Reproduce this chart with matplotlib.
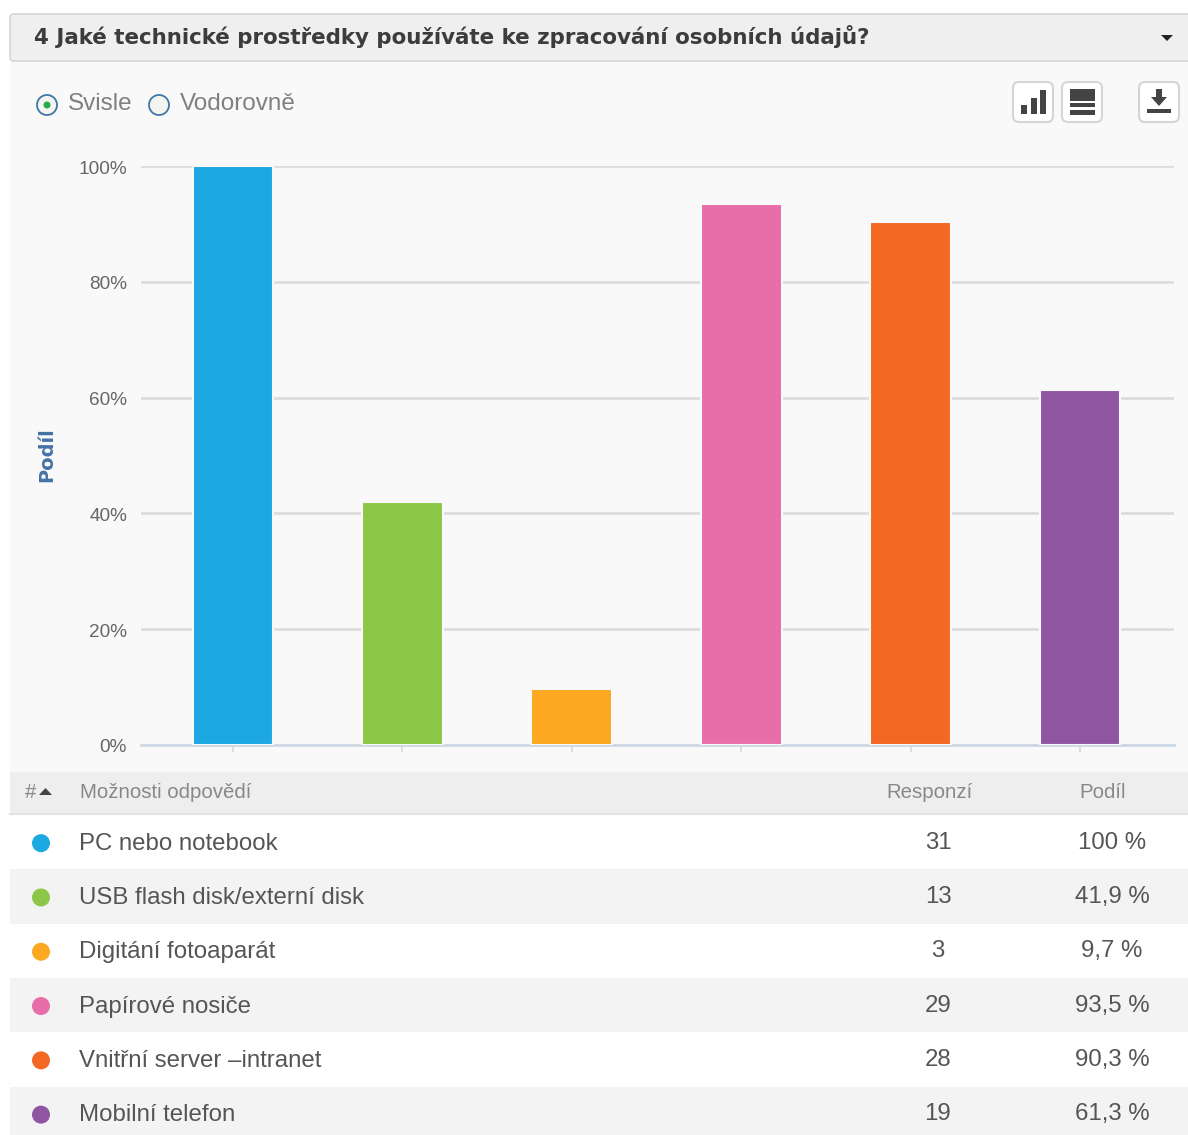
import numpy as np
import matplotlib.pyplot as plt
from matplotlib.patches import Rectangle, FancyBboxPatch, Circle, Polygon
from matplotlib.transforms import ScaledTranslation

W, H = 1188, 1135

question = '4 Jaké technické prostředky používáte ke zpracování osobních údajů?'
options = ['PC nebo notebook', 'USB flash disk/externí disk', 'Digitání fotoaparát',
           'Papírové nosiče', 'Vnitřní server –intranet', 'Mobilní telefon']
responses = [31, 13, 3, 29, 28, 19]
shares = [100, 41.9, 9.7, 93.5, 90.3, 61.3]
share_labels = ['100 %', '41,9 %', '9,7 %', '93,5 %', '90,3 %', '61,3 %']
colors = ['#1ca8e0', '#8cc747', '#fca821', '#e86eaa', '#f36823', '#9055a1']
y_ticks = [0, 20, 40, 60, 80, 100]

plt.rcParams['font.family'] = 'Liberation Sans'
fig = plt.figure(figsize=(W / 100, H / 100), dpi=100, facecolor='w')

# page chrome, in pixel coordinates
bg = fig.add_axes([0, 0, 1, 1], zorder=0)
bg.set_xlim(0, W)
bg.set_ylim(H, 0)
bg.axis('off')
bg.add_patch(Rectangle((10, 60), W, 715, fc='#f9f9f9', ec='none'))
bg.add_patch(FancyBboxPatch((10, 14), W, 47, boxstyle='round,pad=0,rounding_size=4',
                            fc='#efefef', ec='#d6d6d6', lw=1.2))
bg.text(34, 37, question, fontsize=15.4, fontweight='bold', family='DejaVu Sans',
        color='#3c3c3c', va='center')
bg.add_patch(Polygon([[1161, 35], [1173, 35], [1167, 41]], fc='#222222', ec='none'))

# radio buttons
bg.add_patch(Circle((47, 105), 10, fc='#f4f4f0', ec='#3f78a8', lw=1.3))
bg.add_patch(Circle((47, 105), 3.5, fc='#2aa84a', ec='none'))
bg.text(68, 104.5, 'Svisle', fontsize=17.5, color='#808080', va='center')
bg.add_patch(Circle((159, 105), 10, fc='#f4f4f0', ec='#3f78a8', lw=1.3))
bg.text(180, 104.5, 'Vodorovně', fontsize=17.5, color='#808080', va='center')

# toolbar buttons
for bx in [1013, 1062, 1139]:
    bg.add_patch(FancyBboxPatch((bx, 82), 40, 40, boxstyle='round,pad=0,rounding_size=6',
                                fc='w', ec='#d5d5d5', lw=1.5))
for bx, by in [(1021, 105), (1031, 98), (1040, 90)]:
    bg.add_patch(Rectangle((bx, by), 6, 114 - by, fc='#444444', ec='none'))
for by, bh in [(89, 12), (103, 4), (110, 5)]:
    bg.add_patch(Rectangle((1070, by), 25, bh, fc='#444444', ec='none'))
bg.add_patch(Polygon([[1156, 89], [1162, 89], [1162, 97], [1167, 97], [1159, 106],
                      [1151, 97], [1156, 97]], fc='#444444', ec='none'))
bg.add_patch(Rectangle((1147, 109), 24, 4, fc='#444444', ec='none'))

# table
bg.add_patch(Rectangle((10, 772), W, 42, fc='#eeeeee', ec='none'))
bg.plot([10, W], [814, 814], color='#e2e2e2', lw=1.5)
bg.text(25, 792.5, '#', fontsize=14.7, color='#888888', va='center')
bg.add_patch(Polygon([[39, 795], [52, 795], [45.5, 788]], fc='#444444', ec='none'))
bg.text(80, 792.5, 'Možnosti odpovědí', fontsize=14.7, color='#888888', va='center')
bg.text(930, 792.5, 'Responzí', fontsize=14.7, color='#888888', va='center', ha='center')
bg.text(1103, 792.5, 'Podíl', fontsize=14.7, color='#888888', va='center', ha='center')

row_top = 815
row_h = 54.3
for i in range(len(options)):
    top = row_top + i * row_h
    bg.add_patch(Rectangle((10, top), W, row_h, fc='w' if i % 2 == 0 else '#f3f3f3', ec='none'))
    mid = top + row_h / 2
    bg.add_patch(Circle((41, mid + 1), 9, fc=colors[i], ec='none'))
    bg.text(79, mid + 1.5, options[i], fontsize=17.3, color='#555555', va='center')
    bg.text(938, mid + 0.5, str(responses[i]), fontsize=17.3, color='#555555', va='center', ha='center')
    bg.text(1112, mid + 0.5, share_labels[i], fontsize=17.3, color='#555555', va='center', ha='center')

# chart
x0, x1 = 141, 1174
y_top, y_bot = 166, 745
ax = fig.add_axes([x0 / W, 1 - y_bot / H, (x1 - x0) / W, (y_bot - y_top) / H], zorder=1)
ax.patch.set_alpha(0)
step = 169.4
ax.set_xlim((x0 - 233) / step, (x1 - 233) / step)
ax.set_ylim(0, 100)
x = np.arange(len(shares))
ax.bar(x, shares, width=0.478, color=colors, edgecolor='#f9f9f9', linewidth=1.5, zorder=3)
ax.set_yticks(y_ticks)
ax.set_yticklabels([f'{t}%' for t in y_ticks], fontsize=13.7, color='#666666')
ax.set_xticks(x)
ax.set_xticklabels([])
ax.tick_params(axis='y', length=0, pad=10)
ax.tick_params(axis='x', length=5, width=1.5, color='#d5dfe8', direction='out')
down = ScaledTranslation(0, -1 / 100, fig.dpi_scale_trans)
for label in ax.get_yticklabels():
    label.set_transform(label.get_transform() + down)
ax.grid(axis='y', color='#dddddd', lw=2, zorder=1)
ax.set_axisbelow(True)
for side in ['top', 'left', 'right']:
    ax.spines[side].set_visible(False)
ax.spines['bottom'].set_color('#cdd9e4')
ax.spines['bottom'].set_linewidth(2)
bg.text(47, 455, 'Podíl', fontsize=14, fontweight='bold', family='DejaVu Sans', color='#4572a7',
        rotation=90, va='center', ha='center')

fig.savefig('out.png', dpi=100)
